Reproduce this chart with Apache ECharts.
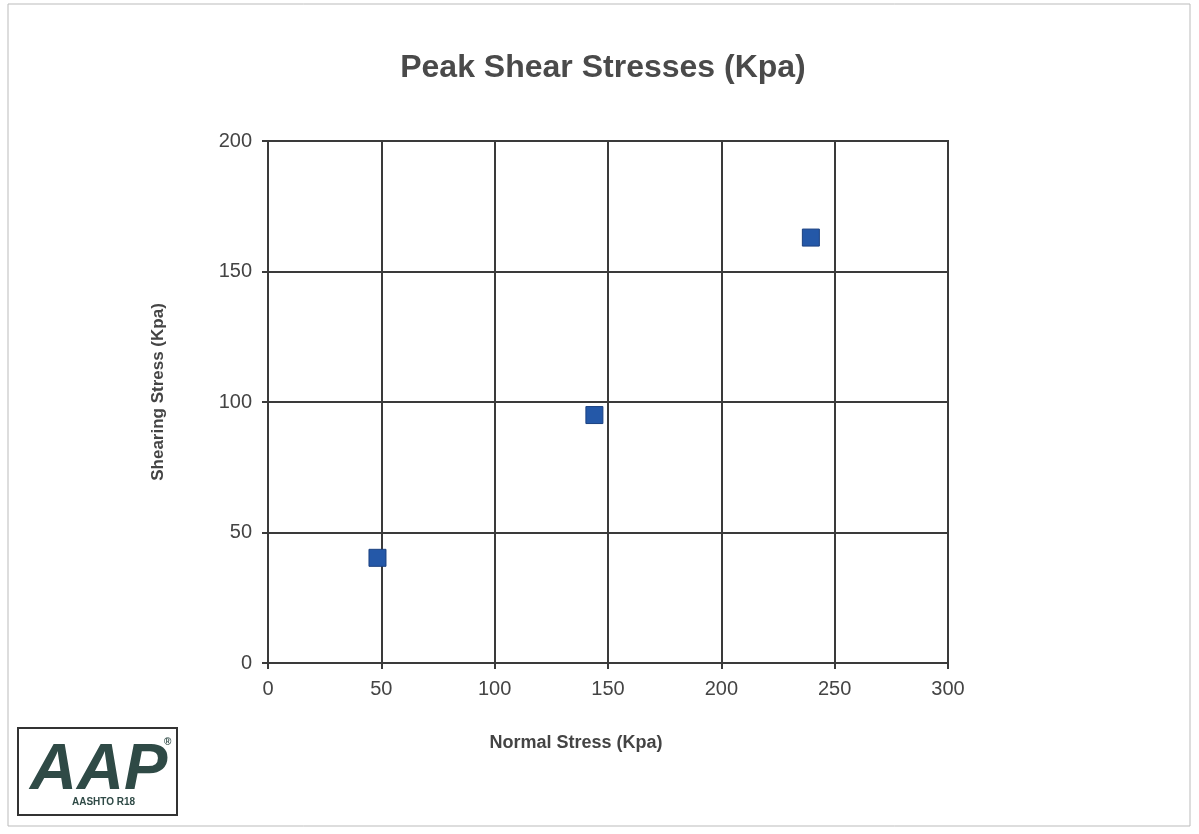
<!DOCTYPE html>
<html><head><meta charset="utf-8">
<script src="https://cdn.jsdelivr.net/npm/echarts@6/dist/echarts.min.js"></script>
<style>html,body{margin:0;padding:0;background:#fff}#c{width:1199px;height:834px}</style>
</head><body><div id="c"></div>
<script>
const normalStress = [48.3, 144, 239.5];
const shearStress = [40.3, 95, 163];
const xTicks = [0, 50, 100, 150, 200, 250, 300];
const yTicks = [0, 50, 100, 150, 200];

const chart = echarts.init(document.getElementById('c'));
const gridColor = '#3a3a3a';
const font = 'Liberation Sans, Arial';
chart.setOption({
  backgroundColor: '#fff',
  animation: false,
  title: {
    text: 'Peak Shear Stresses (Kpa)', left: 598, top: 47, textAlign: 'center',
    textStyle: { fontFamily: font, fontSize: 32, fontWeight: 'bold', color: '#4a4a4a' }
  },
  grid: { left: 268, right: 251, top: 141, bottom: 171, show: true, borderColor: gridColor, borderWidth: 2 },
  xAxis: {
    type: 'value', min: xTicks[0], max: xTicks[xTicks.length - 1], interval: 50,
    name: 'Normal Stress (Kpa)', nameLocation: 'middle', nameGap: 71,
    nameTextStyle: { fontFamily: font, fontSize: 18, fontWeight: 'bold', color: '#444', padding: [0, 64, 0, 0] },
    axisLine: { lineStyle: { color: gridColor, width: 2 } },
    axisTick: { show: true, length: 6, lineStyle: { color: gridColor, width: 2 } },
    axisLabel: { fontFamily: font, fontSize: 20, color: '#444', margin: 16 },
    splitLine: { lineStyle: { color: gridColor, width: 2 } }
  },
  yAxis: {
    type: 'value', min: yTicks[0], max: yTicks[yTicks.length - 1], interval: 50,
    name: 'Shearing Stress (Kpa)', nameLocation: 'middle', nameGap: 101,
    nameTextStyle: { fontFamily: font, fontSize: 17, fontWeight: 'bold', color: '#444', padding: [0, 0, 0, 20] },
    axisLine: { show: true, lineStyle: { color: gridColor, width: 2 } },
    axisTick: { show: true, length: 6, lineStyle: { color: gridColor, width: 2 } },
    axisLabel: { fontFamily: font, fontSize: 20, color: '#444', margin: 16 },
    splitLine: { lineStyle: { color: gridColor, width: 2 } }
  },
  series: [{
    type: 'scatter', symbol: 'rect', symbolSize: 17,
    itemStyle: { color: '#2458a8', opacity: 1, borderColor: '#1b4180', borderWidth: 1 },
    data: normalStress.map((x, i) => [x, shearStress[i]])
  }],
  graphic: [
    { type: 'rect', shape: { x: 8, y: 4, width: 1182, height: 822 }, style: { fill: 'none', stroke: '#bbb', lineWidth: 1 } },
    { type: 'rect', shape: { x: 18, y: 728, width: 159, height: 87 }, style: { fill: '#fff', stroke: '#333', lineWidth: 2 } },
    { type: 'text', left: 30, top: 739, style: { text: 'AAP', font: 'italic bold 65px "Liberation Sans", Arial', fill: '#2f4a46' } },
    { type: 'text', left: 164, top: 737, style: { text: '®', font: 'bold 10px "Liberation Sans", Arial', fill: '#2f4a46' } },
    { type: 'text', left: 72, top: 797, style: { text: 'AASHTO R18', font: 'bold 10px "Liberation Sans", Arial', fill: '#2f4a46' } }
  ]
});
</script></body></html>
